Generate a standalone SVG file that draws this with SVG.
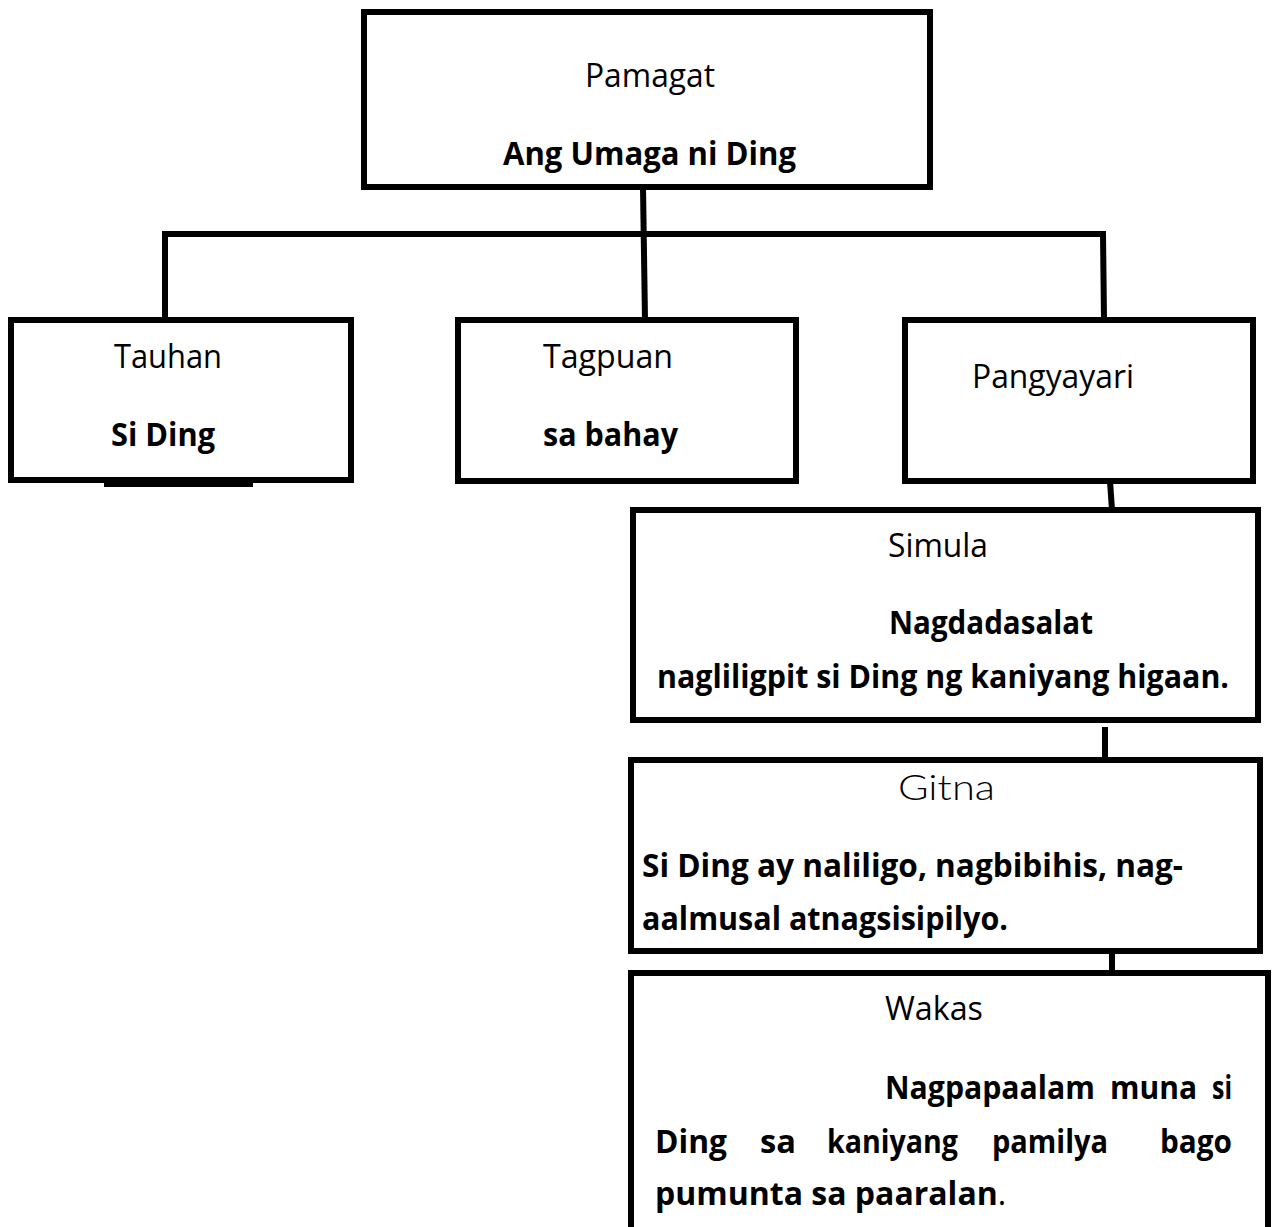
<svg xmlns="http://www.w3.org/2000/svg" width="1274" height="1227" viewBox="0 0 1274 1227">
<style>
.box{fill:#fff;stroke:#000;stroke-width:6}
.conn{fill:none;stroke:#000;stroke-width:6}
.t{font-family:"Open Sans","Liberation Sans",sans-serif;font-size:32px;fill:#000}
.b{font-weight:bold}
.g{font-family:"Lato","DejaVu Sans",sans-serif;font-weight:300;font-size:35px;fill:#000}
</style>
<rect width="1274" height="1227" fill="#fff"/>
<g id="connectors">
<path class="conn" d="M643,187 L645,320"/>
<path class="conn" d="M165,320 L165,234 L1103,234 L1104,320"/>
<path class="conn" d="M1110,481 L1112,510"/>
<path class="conn" d="M1105,727 L1105,760"/>
<path class="conn" d="M1112,951 L1112,973"/>
</g>
<g id="pamagat">
<rect class="box" x="364" y="12" width="566" height="175"/>
<text class="t" x="585" y="87" textLength="130" lengthAdjust="spacingAndGlyphs">Pamagat</text>
<text class="t b" x="503" y="165" textLength="293" lengthAdjust="spacingAndGlyphs">Ang Umaga ni Ding</text>
</g>
<g id="tauhan">
<rect class="box" x="11" y="320" width="340" height="160"/>
<rect x="104" y="481" width="149" height="6" fill="#000"/>
<text class="t" x="114" y="368" textLength="108" lengthAdjust="spacingAndGlyphs">Tauhan</text>
<text class="t b" x="111" y="446" textLength="104" lengthAdjust="spacingAndGlyphs">Si Ding</text>
</g>
<g id="tagpuan">
<rect class="box" x="458" y="320" width="338" height="161"/>
<text class="t" x="543" y="368" textLength="130" lengthAdjust="spacingAndGlyphs">Tagpuan</text>
<text class="t b" x="543" y="446" textLength="135" lengthAdjust="spacingAndGlyphs">sa bahay</text>
</g>
<g id="pangyayari">
<rect class="box" x="905" y="320" width="348" height="161"/>
<text class="t" x="972" y="388" textLength="162" lengthAdjust="spacingAndGlyphs">Pangyayari</text>
</g>
<g id="simula">
<rect class="box" x="633" y="510" width="625" height="210"/>
<text class="t" x="888" y="557" textLength="100" lengthAdjust="spacingAndGlyphs">Simula</text>
<text class="t b" x="889" y="634" textLength="204" lengthAdjust="spacingAndGlyphs">Nagdadasalat</text>
<text class="t b" x="657" y="688" textLength="572" lengthAdjust="spacingAndGlyphs">nagliligpit si Ding ng kaniyang higaan.</text>
</g>
<g id="gitna">
<rect class="box" x="631" y="760" width="629" height="191"/>
<text class="g" x="898" y="800" textLength="97" lengthAdjust="spacingAndGlyphs">Gitna</text>
<text class="t b" x="642" y="877" textLength="541" lengthAdjust="spacingAndGlyphs">Si Ding ay naliligo, nagbibihis, nag-</text>
<text class="t b" x="642" y="930" textLength="366" lengthAdjust="spacingAndGlyphs">aalmusal atnagsisipilyo.</text>
</g>
<g id="wakas">
<rect class="box" x="631" y="973" width="637" height="300"/>
<text class="t" x="885" y="1020" textLength="98" lengthAdjust="spacingAndGlyphs">Wakas</text>
<text class="t b" y="1099"><tspan x="885" textLength="210" lengthAdjust="spacingAndGlyphs">Nagpapaalam</tspan><tspan x="1110" textLength="87" lengthAdjust="spacingAndGlyphs">muna</tspan><tspan x="1212" textLength="20" lengthAdjust="spacingAndGlyphs">si</tspan></text>
<text class="t b" y="1153"><tspan x="655" textLength="72" lengthAdjust="spacingAndGlyphs">Ding</tspan><tspan x="760" textLength="36" lengthAdjust="spacingAndGlyphs">sa</tspan><tspan x="827" textLength="131" lengthAdjust="spacingAndGlyphs">kaniyang</tspan><tspan x="992" textLength="116" lengthAdjust="spacingAndGlyphs">pamilya</tspan><tspan x="1160" textLength="72" lengthAdjust="spacingAndGlyphs">bago</tspan></text>
<text class="t" x="655" y="1205"><tspan class="b">pumunta sa paaralan</tspan>.</text>
</g>
</svg>
